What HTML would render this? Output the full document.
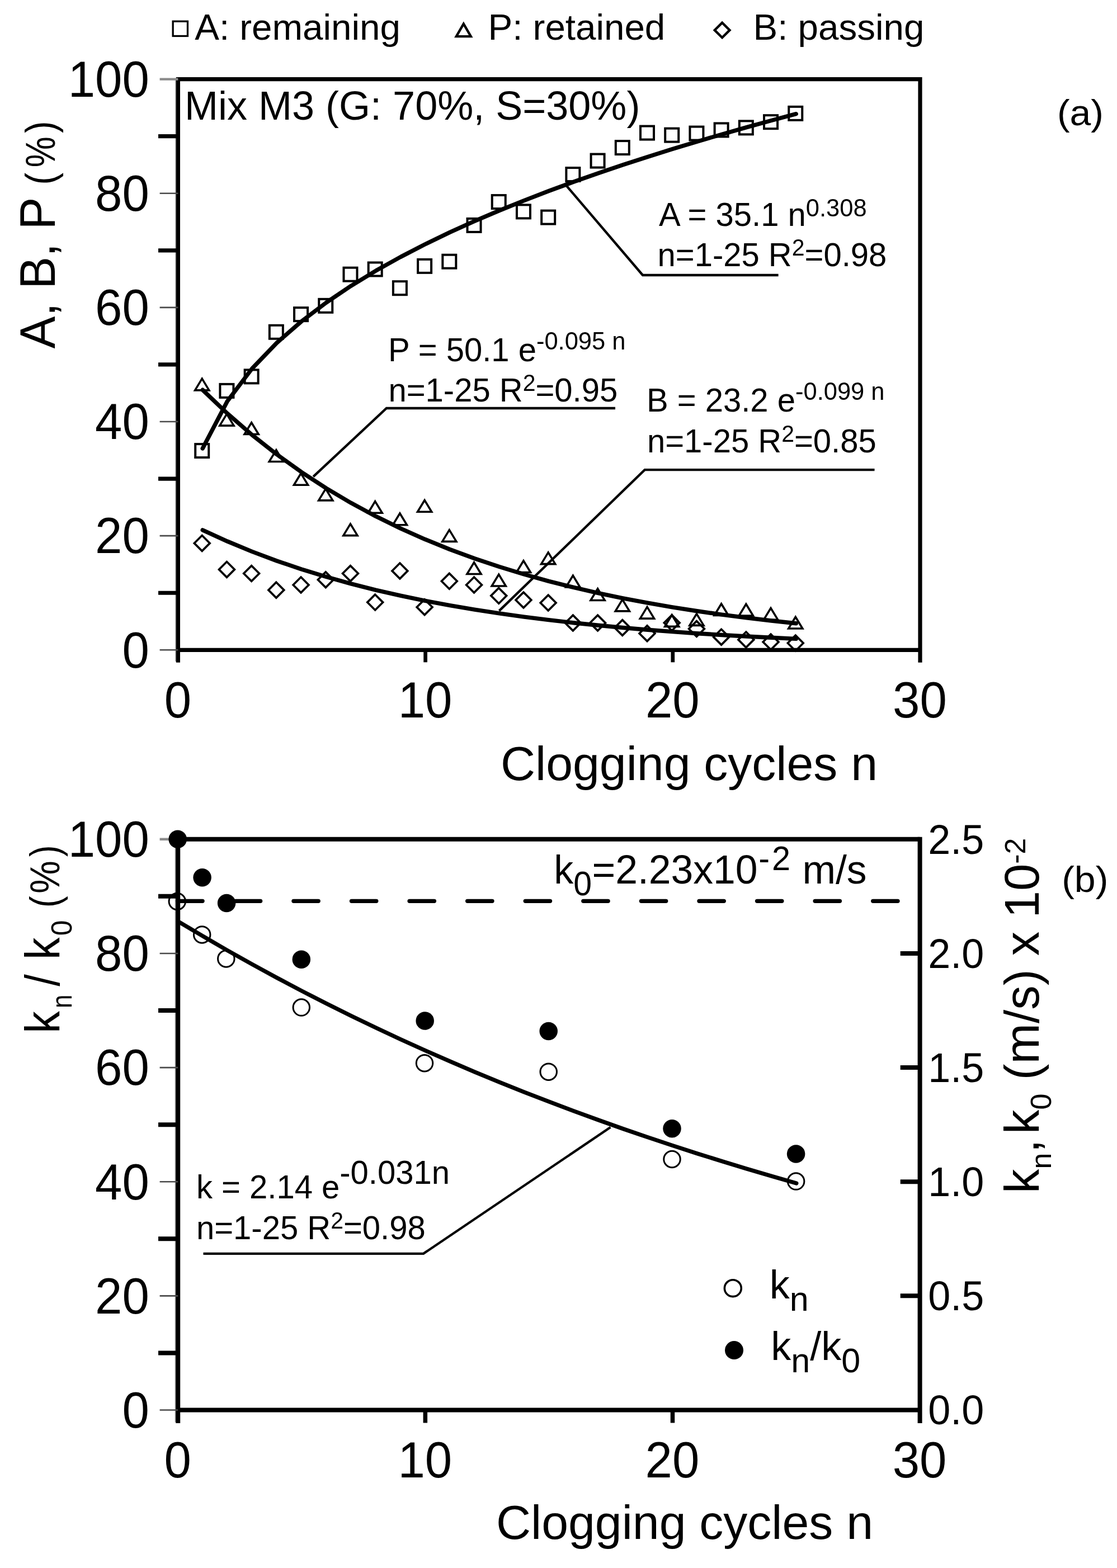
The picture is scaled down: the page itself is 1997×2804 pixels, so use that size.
<!DOCTYPE html>
<html lang="en">
<head>
<meta charset="utf-8">
<title>Clogging cycles chart</title>
<style>
html,body{margin:0;padding:0;background:#fff;}
body{width:1997px;height:2804px;overflow:hidden;}
svg{display:block;}
text{font-family:"Liberation Sans", Arial, Helvetica, sans-serif;white-space:pre;}
</style>
</head>
<body>
<svg width="1997" height="2804" viewBox="0 0 1997 2804" font-family='"Liberation Sans", Arial, Helvetica, sans-serif' fill="#000">
<rect x="0" y="0" width="1997" height="2804" fill="#fff"/>
<rect x="309.15" y="38.15" width="26.30" height="26.30" fill="none" stroke="#000" stroke-width="3.3"/>
<text transform="translate(348.20,71.40) scale(1,1.0)" font-size="65.5" text-anchor="start" >A: remaining</text>
<polygon points="828.80,42.60 841.83,65.15 815.77,65.15" fill="none" stroke="#000" stroke-width="4.3" stroke-linejoin="miter" stroke-miterlimit="10"/>
<text transform="translate(872.50,71.40) scale(1,1.0)" font-size="65.5" text-anchor="start" >P: retained</text>
<polygon points="1291.10,40.62 1304.54,53.90 1291.10,67.18 1277.66,53.90" fill="none" stroke="#000" stroke-width="4.3" stroke-linejoin="miter" stroke-miterlimit="10"/>
<text transform="translate(1346.50,71.40) scale(1,1.0)" font-size="65.5" text-anchor="start" >B: passing</text>
<g id="plot-a">
<line x1="314.20" y1="141.60" x2="314.20" y2="1182.80" stroke="#9a9a9a" stroke-width="1.8" />
<line x1="318.40" y1="138.00" x2="318.40" y2="1184.80" stroke="#000" stroke-width="7.2" />
<line x1="1645.00" y1="138.00" x2="1645.00" y2="1184.80" stroke="#000" stroke-width="7.2" />
<line x1="318.40" y1="141.60" x2="1645.00" y2="141.60" stroke="#000" stroke-width="7.2" />
<line x1="318.40" y1="1162.30" x2="1645.00" y2="1162.30" stroke="#000" stroke-width="7.2" />
<line x1="760.60" y1="1162.30" x2="760.60" y2="1184.30" stroke="#000" stroke-width="6.7" />
<line x1="1202.80" y1="1162.30" x2="1202.80" y2="1184.30" stroke="#000" stroke-width="6.7" />
<line x1="285.60" y1="1162.30" x2="318.40" y2="1162.30" stroke="#4a4a4a" stroke-width="2.6" />
<line x1="283.00" y1="1060.23" x2="318.40" y2="1060.23" stroke="#000" stroke-width="7.2" />
<line x1="285.60" y1="958.16" x2="318.40" y2="958.16" stroke="#4a4a4a" stroke-width="2.6" />
<line x1="283.00" y1="856.09" x2="318.40" y2="856.09" stroke="#000" stroke-width="7.2" />
<line x1="285.60" y1="754.02" x2="318.40" y2="754.02" stroke="#4a4a4a" stroke-width="2.6" />
<line x1="283.00" y1="651.95" x2="318.40" y2="651.95" stroke="#000" stroke-width="7.2" />
<line x1="285.60" y1="549.88" x2="318.40" y2="549.88" stroke="#4a4a4a" stroke-width="2.6" />
<line x1="283.00" y1="447.81" x2="318.40" y2="447.81" stroke="#000" stroke-width="7.2" />
<line x1="285.60" y1="345.74" x2="318.40" y2="345.74" stroke="#4a4a4a" stroke-width="2.6" />
<line x1="283.00" y1="243.67" x2="318.40" y2="243.67" stroke="#000" stroke-width="7.2" />
<line x1="285.60" y1="141.60" x2="318.40" y2="141.60" stroke="#8a8a8a" stroke-width="4.4" />
<text transform="translate(266.80,1193.58) scale(1,1.035)" font-size="87" text-anchor="end" >0</text>
<text transform="translate(266.80,989.44) scale(1,1.035)" font-size="87" text-anchor="end" >20</text>
<text transform="translate(266.80,785.30) scale(1,1.035)" font-size="87" text-anchor="end" >40</text>
<text transform="translate(266.80,581.16) scale(1,1.035)" font-size="87" text-anchor="end" >60</text>
<text transform="translate(266.80,377.02) scale(1,1.035)" font-size="87" text-anchor="end" >80</text>
<text transform="translate(266.80,172.88) scale(1,1.035)" font-size="87" text-anchor="end" >100</text>
<text transform="translate(317.90,1282.60) scale(1,1.035)" font-size="87" text-anchor="middle" >0</text>
<text transform="translate(760.10,1282.60) scale(1,1.035)" font-size="87" text-anchor="middle" >10</text>
<text transform="translate(1202.30,1282.60) scale(1,1.035)" font-size="87" text-anchor="middle" >20</text>
<text transform="translate(1644.50,1282.60) scale(1,1.035)" font-size="87" text-anchor="middle" >30</text>
<text transform="translate(97.90,623.40) rotate(-90) scale(1,1.03)" font-size="87" text-anchor="start" >A, B, P</text>
<text transform="translate(97.90,330.45) rotate(-90) scale(0.8752,1.0)" font-size="74">(</text>
<text transform="translate(97.90,299.16) rotate(-90) scale(0.8348,1.0)" font-size="74">%</text>
<text transform="translate(97.90,238.09) rotate(-90) scale(0.8752,1.0)" font-size="74">)</text>
<text transform="translate(895.00,1394.80) scale(1,1.0)" font-size="86.0" text-anchor="start" >Clogging cycles n</text>
<text transform="translate(330.10,214.20) scale(1,1.0)" font-size="72" text-anchor="start" >Mix M3 (G: 70%, S=30%)</text>
<text transform="translate(1889.90,223.80) scale(1,0.965)" font-size="68" text-anchor="start" >(a)</text>
<polyline points="362.21,801.99 406.42,717.48 450.63,659.13 494.84,613.14 539.05,574.59 583.26,541.10 627.47,511.30 671.68,484.33 715.89,459.61 760.10,436.74 804.31,415.41 848.52,395.39 892.73,376.50 936.94,358.60 981.15,341.56 1025.36,325.30 1069.57,309.73 1113.78,294.79 1157.99,280.41 1202.20,266.55 1246.41,253.17 1290.62,240.22 1334.83,227.67 1379.04,215.50 1423.25,203.68" fill="none" stroke="#000" stroke-width="7.4" stroke-linecap="round" stroke-linejoin="round"/>
<polyline points="362.21,697.27 406.42,739.42 450.63,777.74 494.84,812.59 539.05,844.29 583.26,873.11 627.47,899.32 671.68,923.15 715.89,944.82 760.10,964.53 804.31,982.46 848.52,998.75 892.73,1013.58 936.94,1027.05 981.15,1039.31 1025.36,1050.46 1069.57,1060.59 1113.78,1069.81 1157.99,1078.19 1202.20,1085.81 1246.41,1092.75 1290.62,1099.05 1334.83,1104.78 1379.04,1109.99 1423.25,1114.74" fill="none" stroke="#000" stroke-width="7.4" stroke-linecap="round" stroke-linejoin="round"/>
<polyline points="362.21,947.82 406.42,968.03 450.63,986.35 494.84,1002.93 539.05,1017.95 583.26,1031.56 627.47,1043.88 671.68,1055.04 715.89,1065.15 760.10,1074.31 804.31,1082.60 848.52,1090.12 892.73,1096.92 936.94,1103.08 981.15,1108.66 1025.36,1113.72 1069.57,1118.30 1113.78,1122.45 1157.99,1126.20 1202.20,1129.60 1246.41,1132.69 1290.62,1135.48 1334.83,1138.01 1379.04,1140.30 1423.25,1142.37" fill="none" stroke="#000" stroke-width="7.4" stroke-linecap="round" stroke-linejoin="round"/>
<polyline points="1012.30,331.70 1149.00,492.00 1391.60,492.00" fill="none" stroke="#000" stroke-width="4.3" />
<polyline points="560.10,852.40 691.00,730.00 1100.00,730.00" fill="none" stroke="#000" stroke-width="4.3" />
<polyline points="892.40,1092.40 1152.70,840.20 1563.50,840.20" fill="none" stroke="#000" stroke-width="4.3" />
<rect x="349.21" y="794.08" width="24.00" height="24.00" fill="none" stroke="#000" stroke-width="4.0"/>
<rect x="393.42" y="686.90" width="24.00" height="24.00" fill="none" stroke="#000" stroke-width="4.0"/>
<rect x="437.63" y="661.38" width="24.00" height="24.00" fill="none" stroke="#000" stroke-width="4.0"/>
<rect x="481.84" y="581.77" width="24.00" height="24.00" fill="none" stroke="#000" stroke-width="4.0"/>
<rect x="526.05" y="550.13" width="24.00" height="24.00" fill="none" stroke="#000" stroke-width="4.0"/>
<rect x="570.26" y="534.82" width="24.00" height="24.00" fill="none" stroke="#000" stroke-width="4.0"/>
<rect x="614.47" y="478.68" width="24.00" height="24.00" fill="none" stroke="#000" stroke-width="4.0"/>
<rect x="658.68" y="469.49" width="24.00" height="24.00" fill="none" stroke="#000" stroke-width="4.0"/>
<rect x="702.89" y="503.18" width="24.00" height="24.00" fill="none" stroke="#000" stroke-width="4.0"/>
<rect x="747.10" y="463.88" width="24.00" height="24.00" fill="none" stroke="#000" stroke-width="4.0"/>
<rect x="791.31" y="455.71" width="24.00" height="24.00" fill="none" stroke="#000" stroke-width="4.0"/>
<rect x="835.52" y="390.90" width="24.00" height="24.00" fill="none" stroke="#000" stroke-width="4.0"/>
<rect x="879.73" y="349.05" width="24.00" height="24.00" fill="none" stroke="#000" stroke-width="4.0"/>
<rect x="923.94" y="366.40" width="24.00" height="24.00" fill="none" stroke="#000" stroke-width="4.0"/>
<rect x="968.15" y="376.61" width="24.00" height="24.00" fill="none" stroke="#000" stroke-width="4.0"/>
<rect x="1012.36" y="300.06" width="24.00" height="24.00" fill="none" stroke="#000" stroke-width="4.0"/>
<rect x="1056.57" y="275.56" width="24.00" height="24.00" fill="none" stroke="#000" stroke-width="4.0"/>
<rect x="1100.78" y="252.08" width="24.00" height="24.00" fill="none" stroke="#000" stroke-width="4.0"/>
<rect x="1144.99" y="225.55" width="24.00" height="24.00" fill="none" stroke="#000" stroke-width="4.0"/>
<rect x="1189.20" y="229.63" width="24.00" height="24.00" fill="none" stroke="#000" stroke-width="4.0"/>
<rect x="1233.41" y="226.57" width="24.00" height="24.00" fill="none" stroke="#000" stroke-width="4.0"/>
<rect x="1277.62" y="220.44" width="24.00" height="24.00" fill="none" stroke="#000" stroke-width="4.0"/>
<rect x="1321.83" y="216.36" width="24.00" height="24.00" fill="none" stroke="#000" stroke-width="4.0"/>
<rect x="1366.04" y="206.15" width="24.00" height="24.00" fill="none" stroke="#000" stroke-width="4.0"/>
<rect x="1410.25" y="190.84" width="24.00" height="24.00" fill="none" stroke="#000" stroke-width="4.0"/>
<polygon points="361.21,677.13 373.77,697.85 348.65,697.85" fill="none" stroke="#000" stroke-width="3.6" stroke-linejoin="miter" stroke-miterlimit="10"/>
<polygon points="405.42,740.41 417.98,761.14 392.86,761.14" fill="none" stroke="#000" stroke-width="3.6" stroke-linejoin="miter" stroke-miterlimit="10"/>
<polygon points="449.63,755.72 462.19,776.45 437.07,776.45" fill="none" stroke="#000" stroke-width="3.6" stroke-linejoin="miter" stroke-miterlimit="10"/>
<polygon points="493.84,804.72 506.40,825.44 481.28,825.44" fill="none" stroke="#000" stroke-width="3.6" stroke-linejoin="miter" stroke-miterlimit="10"/>
<polygon points="538.05,846.56 550.61,867.29 525.49,867.29" fill="none" stroke="#000" stroke-width="3.6" stroke-linejoin="miter" stroke-miterlimit="10"/>
<polygon points="582.26,874.12 594.82,894.85 569.70,894.85" fill="none" stroke="#000" stroke-width="3.6" stroke-linejoin="miter" stroke-miterlimit="10"/>
<polygon points="626.47,936.90 639.03,957.62 613.91,957.62" fill="none" stroke="#000" stroke-width="3.6" stroke-linejoin="miter" stroke-miterlimit="10"/>
<polygon points="670.68,896.58 683.24,917.30 658.12,917.30" fill="none" stroke="#000" stroke-width="3.6" stroke-linejoin="miter" stroke-miterlimit="10"/>
<polygon points="714.89,918.01 727.45,938.74 702.33,938.74" fill="none" stroke="#000" stroke-width="3.6" stroke-linejoin="miter" stroke-miterlimit="10"/>
<polygon points="759.10,894.54 771.66,915.26 746.54,915.26" fill="none" stroke="#000" stroke-width="3.6" stroke-linejoin="miter" stroke-miterlimit="10"/>
<polygon points="803.31,947.61 815.87,968.34 790.75,968.34" fill="none" stroke="#000" stroke-width="3.6" stroke-linejoin="miter" stroke-miterlimit="10"/>
<polygon points="847.52,1005.79 860.08,1026.52 834.96,1026.52" fill="none" stroke="#000" stroke-width="3.6" stroke-linejoin="miter" stroke-miterlimit="10"/>
<polygon points="891.73,1027.23 904.29,1047.95 879.17,1047.95" fill="none" stroke="#000" stroke-width="3.6" stroke-linejoin="miter" stroke-miterlimit="10"/>
<polygon points="935.94,1002.73 948.50,1023.46 923.38,1023.46" fill="none" stroke="#000" stroke-width="3.6" stroke-linejoin="miter" stroke-miterlimit="10"/>
<polygon points="980.15,987.93 992.71,1008.66 967.59,1008.66" fill="none" stroke="#000" stroke-width="3.6" stroke-linejoin="miter" stroke-miterlimit="10"/>
<polygon points="1024.36,1029.27 1036.92,1050.00 1011.80,1050.00" fill="none" stroke="#000" stroke-width="3.6" stroke-linejoin="miter" stroke-miterlimit="10"/>
<polygon points="1068.57,1052.75 1081.13,1073.47 1056.01,1073.47" fill="none" stroke="#000" stroke-width="3.6" stroke-linejoin="miter" stroke-miterlimit="10"/>
<polygon points="1112.78,1072.14 1125.34,1092.86 1100.22,1092.86" fill="none" stroke="#000" stroke-width="3.6" stroke-linejoin="miter" stroke-miterlimit="10"/>
<polygon points="1156.99,1085.41 1169.55,1106.13 1144.43,1106.13" fill="none" stroke="#000" stroke-width="3.6" stroke-linejoin="miter" stroke-miterlimit="10"/>
<polygon points="1201.20,1099.70 1213.76,1120.42 1188.64,1120.42" fill="none" stroke="#000" stroke-width="3.6" stroke-linejoin="miter" stroke-miterlimit="10"/>
<polygon points="1245.41,1097.66 1257.97,1118.38 1232.85,1118.38" fill="none" stroke="#000" stroke-width="3.6" stroke-linejoin="miter" stroke-miterlimit="10"/>
<polygon points="1289.62,1079.79 1302.18,1100.52 1277.06,1100.52" fill="none" stroke="#000" stroke-width="3.6" stroke-linejoin="miter" stroke-miterlimit="10"/>
<polygon points="1333.83,1080.30 1346.39,1101.03 1321.27,1101.03" fill="none" stroke="#000" stroke-width="3.6" stroke-linejoin="miter" stroke-miterlimit="10"/>
<polygon points="1378.04,1087.45 1390.60,1108.18 1365.48,1108.18" fill="none" stroke="#000" stroke-width="3.6" stroke-linejoin="miter" stroke-miterlimit="10"/>
<polygon points="1422.25,1103.27 1434.81,1124.00 1409.69,1124.00" fill="none" stroke="#000" stroke-width="3.6" stroke-linejoin="miter" stroke-miterlimit="10"/>
<polygon points="361.21,957.55 375.09,971.43 361.21,985.31 347.33,971.43" fill="none" stroke="#000" stroke-width="3.7" stroke-linejoin="miter" stroke-miterlimit="10"/>
<polygon points="405.42,1004.50 419.30,1018.38 405.42,1032.27 391.54,1018.38" fill="none" stroke="#000" stroke-width="3.7" stroke-linejoin="miter" stroke-miterlimit="10"/>
<polygon points="449.63,1011.64 463.51,1025.53 449.63,1039.41 435.75,1025.53" fill="none" stroke="#000" stroke-width="3.7" stroke-linejoin="miter" stroke-miterlimit="10"/>
<polygon points="493.84,1041.24 507.72,1055.13 493.84,1069.01 479.96,1055.13" fill="none" stroke="#000" stroke-width="3.7" stroke-linejoin="miter" stroke-miterlimit="10"/>
<polygon points="538.05,1032.06 551.93,1045.94 538.05,1059.82 524.17,1045.94" fill="none" stroke="#000" stroke-width="3.7" stroke-linejoin="miter" stroke-miterlimit="10"/>
<polygon points="582.26,1022.87 596.14,1036.75 582.26,1050.64 568.38,1036.75" fill="none" stroke="#000" stroke-width="3.7" stroke-linejoin="miter" stroke-miterlimit="10"/>
<polygon points="626.47,1011.64 640.35,1025.53 626.47,1039.41 612.59,1025.53" fill="none" stroke="#000" stroke-width="3.7" stroke-linejoin="miter" stroke-miterlimit="10"/>
<polygon points="670.68,1063.19 684.56,1077.07 670.68,1090.96 656.80,1077.07" fill="none" stroke="#000" stroke-width="3.7" stroke-linejoin="miter" stroke-miterlimit="10"/>
<polygon points="714.89,1007.05 728.77,1020.93 714.89,1034.82 701.01,1020.93" fill="none" stroke="#000" stroke-width="3.7" stroke-linejoin="miter" stroke-miterlimit="10"/>
<polygon points="759.10,1071.86 772.98,1085.75 759.10,1099.63 745.22,1085.75" fill="none" stroke="#000" stroke-width="3.7" stroke-linejoin="miter" stroke-miterlimit="10"/>
<polygon points="803.31,1025.42 817.19,1039.31 803.31,1053.19 789.43,1039.31" fill="none" stroke="#000" stroke-width="3.7" stroke-linejoin="miter" stroke-miterlimit="10"/>
<polygon points="847.52,1032.06 861.40,1045.94 847.52,1059.82 833.64,1045.94" fill="none" stroke="#000" stroke-width="3.7" stroke-linejoin="miter" stroke-miterlimit="10"/>
<polygon points="891.73,1051.45 905.61,1065.33 891.73,1079.22 877.85,1065.33" fill="none" stroke="#000" stroke-width="3.7" stroke-linejoin="miter" stroke-miterlimit="10"/>
<polygon points="935.94,1059.11 949.82,1072.99 935.94,1086.87 922.06,1072.99" fill="none" stroke="#000" stroke-width="3.7" stroke-linejoin="miter" stroke-miterlimit="10"/>
<polygon points="980.15,1064.11 994.03,1077.99 980.15,1091.87 966.27,1077.99" fill="none" stroke="#000" stroke-width="3.7" stroke-linejoin="miter" stroke-miterlimit="10"/>
<polygon points="1024.36,1100.14 1038.24,1114.02 1024.36,1127.90 1010.48,1114.02" fill="none" stroke="#000" stroke-width="3.7" stroke-linejoin="miter" stroke-miterlimit="10"/>
<polygon points="1068.57,1100.14 1082.45,1114.02 1068.57,1127.90 1054.69,1114.02" fill="none" stroke="#000" stroke-width="3.7" stroke-linejoin="miter" stroke-miterlimit="10"/>
<polygon points="1112.78,1108.61 1126.66,1122.49 1112.78,1136.38 1098.90,1122.49" fill="none" stroke="#000" stroke-width="3.7" stroke-linejoin="miter" stroke-miterlimit="10"/>
<polygon points="1156.99,1118.82 1170.87,1132.70 1156.99,1146.58 1143.11,1132.70" fill="none" stroke="#000" stroke-width="3.7" stroke-linejoin="miter" stroke-miterlimit="10"/>
<polygon points="1201.20,1099.93 1215.08,1113.82 1201.20,1127.70 1187.32,1113.82" fill="none" stroke="#000" stroke-width="3.7" stroke-linejoin="miter" stroke-miterlimit="10"/>
<polygon points="1245.41,1110.65 1259.29,1124.53 1245.41,1138.42 1231.53,1124.53" fill="none" stroke="#000" stroke-width="3.7" stroke-linejoin="miter" stroke-miterlimit="10"/>
<polygon points="1289.62,1125.25 1303.50,1139.13 1289.62,1153.01 1275.74,1139.13" fill="none" stroke="#000" stroke-width="3.7" stroke-linejoin="miter" stroke-miterlimit="10"/>
<polygon points="1333.83,1130.04 1347.71,1143.93 1333.83,1157.81 1319.95,1143.93" fill="none" stroke="#000" stroke-width="3.7" stroke-linejoin="miter" stroke-miterlimit="10"/>
<polygon points="1378.04,1134.13 1391.92,1148.01 1378.04,1161.89 1364.16,1148.01" fill="none" stroke="#000" stroke-width="3.7" stroke-linejoin="miter" stroke-miterlimit="10"/>
<polygon points="1422.25,1136.17 1436.13,1150.05 1422.25,1163.94 1408.37,1150.05" fill="none" stroke="#000" stroke-width="3.7" stroke-linejoin="miter" stroke-miterlimit="10"/>
<text transform="translate(1178.00,403.50) scale(1,1.03)" font-size="58.0" text-anchor="start" ><tspan font-size="58.0" dy="-0.00">A = 35.1 n</tspan><tspan font-size="43.5" dy="-15.83">0.308</tspan></text>
<text transform="translate(1175.60,475.80) scale(1,1.03)" font-size="58.0" text-anchor="start" ><tspan font-size="58.0" dy="-0.00">n=1-25 R</tspan><tspan font-size="41" dy="-18.45">2</tspan><tspan font-size="58.0" dy="18.45">=0.98</tspan></text>
<text transform="translate(694.00,645.70) scale(1,1.03)" font-size="58.0" text-anchor="start" ><tspan font-size="58.0" dy="-0.00">P = 50.1 e</tspan><tspan font-size="43.5" dy="-20.39">-0.095 n</tspan></text>
<text transform="translate(694.50,718.10) scale(1,1.03)" font-size="58.0" text-anchor="start" ><tspan font-size="58.0" dy="-0.00">n=1-25 R</tspan><tspan font-size="41" dy="-18.45">2</tspan><tspan font-size="58.0" dy="18.45">=0.95</tspan></text>
<text transform="translate(1156.00,736.10) scale(1,1.03)" font-size="58.0" text-anchor="start" ><tspan font-size="58.0" dy="-0.00">B = 23.2 e</tspan><tspan font-size="43.5" dy="-20.39">-0.099 n</tspan></text>
<text transform="translate(1157.00,808.80) scale(1,1.03)" font-size="58.0" text-anchor="start" ><tspan font-size="58.0" dy="-0.00">n=1-25 R</tspan><tspan font-size="41" dy="-18.45">2</tspan><tspan font-size="58.0" dy="18.45">=0.85</tspan></text>
</g>
<g id="plot-b">
<line x1="313.60" y1="1500.80" x2="313.60" y2="2543.00" stroke="#9a9a9a" stroke-width="1.8" />
<line x1="318.20" y1="1496.80" x2="318.20" y2="2545.00" stroke="#000" stroke-width="8.0" />
<line x1="1644.60" y1="1496.80" x2="1644.60" y2="2545.00" stroke="#000" stroke-width="8.0" />
<line x1="318.20" y1="1500.80" x2="1644.60" y2="1500.80" stroke="#000" stroke-width="8.0" />
<line x1="318.20" y1="2521.50" x2="1644.60" y2="2521.50" stroke="#000" stroke-width="8.0" />
<line x1="760.33" y1="2521.50" x2="760.33" y2="2544.50" stroke="#000" stroke-width="7.5" />
<line x1="1202.47" y1="2521.50" x2="1202.47" y2="2544.50" stroke="#000" stroke-width="7.5" />
<line x1="285.60" y1="2521.50" x2="318.20" y2="2521.50" stroke="#4a4a4a" stroke-width="2.6" />
<line x1="283.00" y1="2419.43" x2="318.20" y2="2419.43" stroke="#000" stroke-width="8.0" />
<line x1="285.60" y1="2317.36" x2="318.20" y2="2317.36" stroke="#4a4a4a" stroke-width="2.6" />
<line x1="283.00" y1="2215.29" x2="318.20" y2="2215.29" stroke="#000" stroke-width="8.0" />
<line x1="285.60" y1="2113.22" x2="318.20" y2="2113.22" stroke="#4a4a4a" stroke-width="2.6" />
<line x1="283.00" y1="2011.15" x2="318.20" y2="2011.15" stroke="#000" stroke-width="8.0" />
<line x1="285.60" y1="1909.08" x2="318.20" y2="1909.08" stroke="#4a4a4a" stroke-width="2.6" />
<line x1="283.00" y1="1807.01" x2="318.20" y2="1807.01" stroke="#000" stroke-width="8.0" />
<line x1="285.60" y1="1704.94" x2="318.20" y2="1704.94" stroke="#4a4a4a" stroke-width="2.6" />
<line x1="283.00" y1="1602.87" x2="318.20" y2="1602.87" stroke="#000" stroke-width="8.0" />
<line x1="285.60" y1="1500.80" x2="318.20" y2="1500.80" stroke="#8a8a8a" stroke-width="4.4" />
<text transform="translate(266.80,2552.78) scale(1,1.035)" font-size="87" text-anchor="end" >0</text>
<text transform="translate(266.80,2348.64) scale(1,1.035)" font-size="87" text-anchor="end" >20</text>
<text transform="translate(266.80,2144.50) scale(1,1.035)" font-size="87" text-anchor="end" >40</text>
<text transform="translate(266.80,1940.36) scale(1,1.035)" font-size="87" text-anchor="end" >60</text>
<text transform="translate(266.80,1736.22) scale(1,1.035)" font-size="87" text-anchor="end" >80</text>
<text transform="translate(266.80,1532.08) scale(1,1.035)" font-size="87" text-anchor="end" >100</text>
<text transform="translate(317.70,2641.80) scale(1,1.035)" font-size="87" text-anchor="middle" >0</text>
<text transform="translate(759.83,2641.80) scale(1,1.035)" font-size="87" text-anchor="middle" >10</text>
<text transform="translate(1201.97,2641.80) scale(1,1.035)" font-size="87" text-anchor="middle" >20</text>
<text transform="translate(1644.10,2641.80) scale(1,1.035)" font-size="87" text-anchor="middle" >30</text>
<text transform="translate(1659.30,2547.43) scale(1,1.035)" font-size="72" text-anchor="start" >0.0</text>
<line x1="1609.70" y1="2317.36" x2="1644.60" y2="2317.36" stroke="#000" stroke-width="8.0" />
<text transform="translate(1659.30,2343.29) scale(1,1.035)" font-size="72" text-anchor="start" >0.5</text>
<line x1="1609.70" y1="2113.22" x2="1644.60" y2="2113.22" stroke="#000" stroke-width="8.0" />
<text transform="translate(1659.30,2139.15) scale(1,1.035)" font-size="72" text-anchor="start" >1.0</text>
<line x1="1609.70" y1="1909.08" x2="1644.60" y2="1909.08" stroke="#000" stroke-width="8.0" />
<text transform="translate(1659.30,1935.01) scale(1,1.035)" font-size="72" text-anchor="start" >1.5</text>
<line x1="1609.70" y1="1704.94" x2="1644.60" y2="1704.94" stroke="#000" stroke-width="8.0" />
<text transform="translate(1659.30,1730.87) scale(1,1.035)" font-size="72" text-anchor="start" >2.0</text>
<text transform="translate(1659.30,1526.73) scale(1,1.035)" font-size="72" text-anchor="start" >2.5</text>
<line x1="317.70" y1="1611.30" x2="362.10" y2="1611.30" stroke="#000" stroke-width="7.2" stroke-linecap="round"/>
<line x1="421.28" y1="1611.30" x2="465.68" y2="1611.30" stroke="#000" stroke-width="7.2" stroke-linecap="round"/>
<line x1="524.86" y1="1611.30" x2="569.26" y2="1611.30" stroke="#000" stroke-width="7.2" stroke-linecap="round"/>
<line x1="628.44" y1="1611.30" x2="672.84" y2="1611.30" stroke="#000" stroke-width="7.2" stroke-linecap="round"/>
<line x1="732.02" y1="1611.30" x2="776.42" y2="1611.30" stroke="#000" stroke-width="7.2" stroke-linecap="round"/>
<line x1="835.60" y1="1611.30" x2="880.00" y2="1611.30" stroke="#000" stroke-width="7.2" stroke-linecap="round"/>
<line x1="939.18" y1="1611.30" x2="983.58" y2="1611.30" stroke="#000" stroke-width="7.2" stroke-linecap="round"/>
<line x1="1042.76" y1="1611.30" x2="1087.16" y2="1611.30" stroke="#000" stroke-width="7.2" stroke-linecap="round"/>
<line x1="1146.34" y1="1611.30" x2="1190.74" y2="1611.30" stroke="#000" stroke-width="7.2" stroke-linecap="round"/>
<line x1="1249.92" y1="1611.30" x2="1294.32" y2="1611.30" stroke="#000" stroke-width="7.2" stroke-linecap="round"/>
<line x1="1353.50" y1="1611.30" x2="1397.90" y2="1611.30" stroke="#000" stroke-width="7.2" stroke-linecap="round"/>
<line x1="1457.08" y1="1611.30" x2="1501.48" y2="1611.30" stroke="#000" stroke-width="7.2" stroke-linecap="round"/>
<line x1="1560.66" y1="1611.30" x2="1605.06" y2="1611.30" stroke="#000" stroke-width="7.2" stroke-linecap="round"/>
<polyline points="318.60,1647.78 362.81,1674.20 407.02,1699.81 451.23,1724.66 495.44,1748.75 539.65,1772.11 583.86,1794.77 628.07,1816.74 672.28,1838.05 716.49,1858.71 760.70,1878.75 804.91,1898.18 849.12,1917.03 893.33,1935.30 937.54,1953.02 981.75,1970.21 1025.96,1986.88 1070.17,2003.04 1114.38,2018.72 1158.59,2033.92 1202.80,2048.66 1247.01,2062.95 1291.22,2076.82 1335.43,2090.26 1379.64,2103.30 1423.85,2115.94" fill="none" stroke="#000" stroke-width="7.3" stroke-linecap="round" stroke-linejoin="round"/>
<polyline points="363.50,2241.90 757.00,2241.90 1091.50,2015.80" fill="none" stroke="#000" stroke-width="4.3" />
<circle cx="316.80" cy="1612.00" r="14.75" fill="none" stroke="#000" stroke-width="3.0"/>
<circle cx="361.20" cy="1671.40" r="14.75" fill="none" stroke="#000" stroke-width="3.0"/>
<circle cx="404.30" cy="1714.50" r="14.75" fill="none" stroke="#000" stroke-width="3.0"/>
<circle cx="538.80" cy="1801.60" r="14.75" fill="none" stroke="#000" stroke-width="3.0"/>
<circle cx="759.00" cy="1901.20" r="14.75" fill="none" stroke="#000" stroke-width="3.0"/>
<circle cx="980.70" cy="1916.70" r="14.75" fill="none" stroke="#000" stroke-width="3.0"/>
<circle cx="1201.50" cy="2073.00" r="14.75" fill="none" stroke="#000" stroke-width="3.0"/>
<circle cx="1423.10" cy="2112.60" r="14.75" fill="none" stroke="#000" stroke-width="3.0"/>
<circle cx="317.70" cy="1500.80" r="16.25" fill="#000"/>
<circle cx="361.60" cy="1569.20" r="16.25" fill="#000"/>
<circle cx="405.10" cy="1615.00" r="16.25" fill="#000"/>
<circle cx="538.80" cy="1715.80" r="16.25" fill="#000"/>
<circle cx="759.70" cy="1825.50" r="16.25" fill="#000"/>
<circle cx="980.70" cy="1844.00" r="16.25" fill="#000"/>
<circle cx="1201.50" cy="2018.30" r="16.25" fill="#000"/>
<circle cx="1423.10" cy="2063.40" r="16.25" fill="#000"/>
<circle cx="1310.30" cy="2303.70" r="14.95" fill="none" stroke="#000" stroke-width="3.6"/>
<circle cx="1312.50" cy="2414.60" r="16.50" fill="#000"/>
<text transform="translate(1375.80,2322.20) scale(1,1.0)" font-size="72" text-anchor="start" ><tspan font-size="72" dy="-0.00">k</tspan><tspan font-size="61" dy="22.00">n</tspan></text>
<text transform="translate(1378.30,2432.10) scale(1,1.0)" font-size="72" text-anchor="start" ><tspan font-size="72" dy="-0.00">k</tspan><tspan font-size="61" dy="22.00">n</tspan><tspan font-size="72" dy="-22.00">/k</tspan><tspan font-size="61" dy="22.00">0</tspan></text>
<text transform="translate(990.20,1580.00) scale(1,1.02)" font-size="71.5" text-anchor="start" ><tspan font-size="70" dy="-0.00">k</tspan><tspan font-size="59" dy="20.59">0</tspan><tspan font-size="71.5" dx="0.5" dy="-20.59">=2.23x10</tspan><tspan font-size="59.5" dx="1.5" dy="-23.53">-</tspan><tspan font-size="59.5" dx="4.0" dy="0.00">2</tspan><tspan font-size="71.5" dx="1.5" dy="23.53"> m/s</tspan></text>
<text transform="translate(351.00,2142.90) scale(1,1.03)" font-size="58.0" text-anchor="start" ><tspan font-size="58.0" dy="-0.00">k = 2.14 e</tspan><tspan font-size="58" dy="-25.24">-0.031n</tspan></text>
<text transform="translate(351.00,2216.00) scale(1,1.03)" font-size="58.0" text-anchor="start" ><tspan font-size="58.0" dy="-0.00">n=1-25 R</tspan><tspan font-size="41" dy="-18.45">2</tspan><tspan font-size="58.0" dy="18.45">=0.98</tspan></text>
<text transform="translate(105.70,1847.98) rotate(-90) scale(0.9169,1.0)" font-size="87">k</text>
<text transform="translate(127.60,1802.96) rotate(-90) scale(0.8421,1.0)" font-size="52">n</text>
<text transform="translate(105.70,1763.70) rotate(-90) scale(0.8905,1.0)" font-size="87">/</text>
<text transform="translate(105.70,1716.18) rotate(-90) scale(0.9169,1.0)" font-size="87">k</text>
<text transform="translate(127.60,1673.29) rotate(-90) scale(0.9545,1.0)" font-size="52">0</text>
<text transform="translate(105.70,1623.06) rotate(-90) scale(0.8340,1.0)" font-size="74">(</text>
<text transform="translate(105.70,1597.81) rotate(-90) scale(0.8926,1.0)" font-size="74">%</text>
<text transform="translate(105.70,1532.06) rotate(-90) scale(0.8340,1.0)" font-size="74">)</text>
<text transform="translate(1857.30,2134.00) rotate(-90) scale(1,1.0)" font-size="87" text-anchor="start" ><tspan font-size="87" dy="-0.00">k</tspan><tspan font-size="52" dy="22.00">n</tspan><tspan font-size="87" dy="-22.00">,</tspan></text>
<text transform="translate(1857.30,2028.00) rotate(-90) scale(1,1.0)" font-size="87" text-anchor="start" ><tspan font-size="87" dy="-0.00">k</tspan><tspan font-size="52" dy="22.00">0</tspan><tspan font-size="87" dy="-22.00"> (m/s) x 10</tspan><tspan font-size="52" dy="-24.00">-2</tspan></text>
<text transform="translate(887.00,2752.20) scale(1,1.0)" font-size="86.0" text-anchor="start" >Clogging cycles n</text>
<text transform="translate(1898.20,1595.40) scale(1,0.965)" font-size="68" text-anchor="start" >(b)</text>
</g>
</svg>
</body>
</html>
